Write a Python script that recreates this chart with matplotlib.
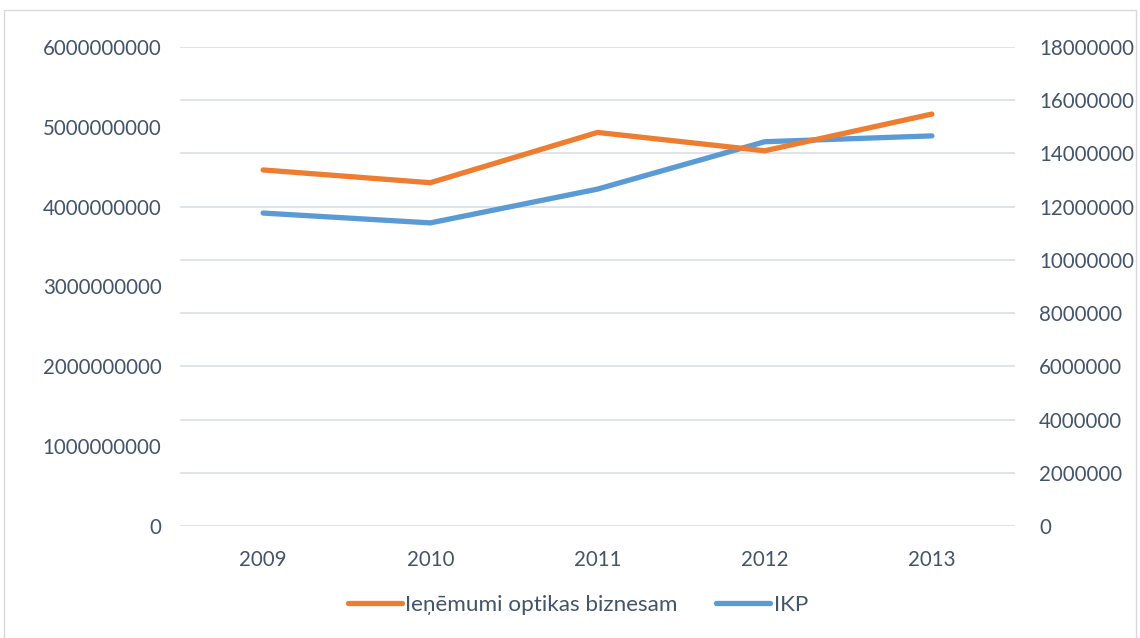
import numpy as np
import matplotlib.pyplot as plt
from matplotlib.lines import Line2D

plt.rcParams['font.family'] = ['Lato', 'DejaVu Sans']

years = ['2009', '2010', '2011', '2012', '2013']
ienemumi = [4.46e9, 4.30e9, 4.93e9, 4.70e9, 5.16e9]
ikp = [11.76e6, 11.39e6, 12.66e6, 14.44e6, 14.66e6]

left_ticks = np.arange(0, 6e9 + 1, 1e9)
right_ticks = np.arange(0, 18e6 + 1, 2e6)

orange = '#ED7D31'
blue = '#5B9BD5'
txt = '#44546A'
grid = '#D9DEE6'

W, H = 1140, 638
fig = plt.figure(figsize=(W / 100, H / 100), dpi=100)
ax = fig.add_axes([179.5 / W, 1 - 526 / H, 836 / W, 479 / H])
ax2 = ax.twinx()

x = np.arange(len(years))

# gridlines from the right axis
for t in right_ticks:
    ax2.axhline(t, color=grid, lw=1.2, zorder=0)

ax.plot(x, ienemumi, color=orange, lw=3.8, solid_capstyle='round', zorder=3)
ax2.plot(x, ikp, color=blue, lw=3.8, solid_capstyle='round', zorder=3)
ax.set_zorder(ax2.get_zorder() + 1)
ax.patch.set_visible(False)

ax.set_xlim(-0.5, len(years) - 0.5)
ax.set_ylim(0, 6e9)
ax2.set_ylim(0, 18e6)
ax.set_xticks(x)
ax.set_xticklabels(years)
ax.set_yticks(left_ticks)
ax.set_yticklabels([f'{int(v)}' for v in left_ticks])
ax2.set_yticks(right_ticks)
ax2.set_yticklabels([f'{int(v)}' for v in right_ticks])

fs = 14.8
for a in (ax, ax2):
    for s in a.spines.values():
        s.set_visible(False)
    a.tick_params(length=0, labelsize=fs, colors=txt)
ax.tick_params(axis='y', pad=13)
ax2.tick_params(axis='y', pad=17)
ax.tick_params(axis='x', pad=17)

handles = [Line2D([], [], color=orange, lw=3.8, solid_capstyle='round'),
           Line2D([], [], color=blue, lw=3.8, solid_capstyle='round')]
fig.legend(handles, ['Ieņēmumi optikas biznesam', 'IKP'], loc='center',
           bbox_to_anchor=(578 / W, 1 - 605 / H), ncol=2, frameon=False,
           fontsize=16.2, labelcolor=txt, handlelength=2.4, handletextpad=0.15,
           columnspacing=1.7)

# outer chart border
fig.add_artist(Line2D([4 / W, 4 / W, 1136 / W, 1136 / W],
                      [0, 1 - 10 / H, 1 - 10 / H, 0],
                      transform=fig.transFigure, color='#D9D9D9', lw=1))

fig.savefig('out.png', dpi=100)
